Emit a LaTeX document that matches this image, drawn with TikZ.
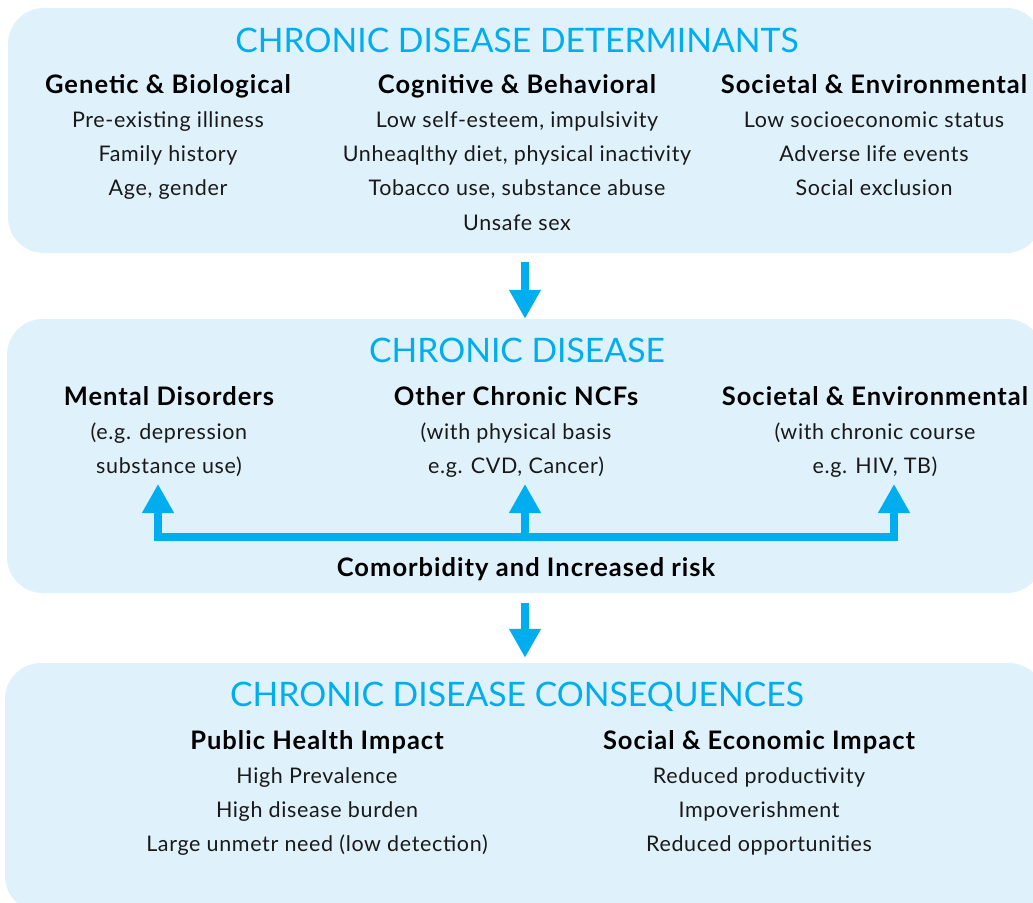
\documentclass[tikz,border=0pt]{standalone}
\usepackage{fontspec}
\setmainfont{Lato}
\newfontfamily\itemfont{Lato}[LetterSpace=3]
\newfontfamily\headfont{Lato}[LetterSpace=4]
\usetikzlibrary{arrows.meta}
\definecolor{cdcyan}{HTML}{00AEEF}
\definecolor{cdfill}{HTML}{DFF1FB}

\begin{document}
\begin{tikzpicture}[x=1pt,y=-1pt,
    panel/.style={fill=cdfill, rounded corners=36pt, draw=none, inner sep=0pt},
    ttl/.style={anchor=base, text=cdcyan, font=\fontsize{33.7}{36}\selectfont},
    head/.style={anchor=base, font=\headfont\fontsize{25.5}{28}\selectfont\bfseries},
    item/.style={anchor=base, text=black!90, font=\itemfont\fontsize{21.5}{24}\selectfont},
    flow/.style={draw=cdcyan, line width=8pt, -{Triangle[width=30pt,length=29pt]}}]

    \useasboundingbox (0,0) rectangle (1033,902);

    % the three panels, cut at the right edge
    \begin{scope}
        \clip (0,0) rectangle (1033,902);
        \node[panel, minimum width=1034pt, minimum height=245pt] (detbox) at (525,130.5) {};
        \node[panel, minimum width=1036pt, minimum height=274pt] (disbox) at (525,456) {};
        \node[panel, minimum width=1040pt, minimum height=249pt] (conbox) at (525,787.5) {};
    \end{scope}

    % determinants
    \node[ttl] (dettitle) at (517,52) {CHRONIC DISEASE DETERMINANTS};
    \node[head] (gen) at (168,93) {Genetic \& Biological};
    \node[head] (cog) at (517,93) {Cognitive \& Behavioral};
    \node[head] (soc) at (874,93) {Societal \& Environmental};
    \foreach \i/\txt in {1/Pre-existing illiness, 2/Family history, 3/{Age, gender}} {
            \node[item] (gen\i) at (168,93+34.3*\i) {\txt};
        }
    \foreach \i/\txt in {1/{Low self-esteem, impulsivity}, 2/{Unheaqlthy diet, physical inactivity}, 3/{Tobacco use, substance abuse}, 4/Unsafe sex} {
            \node[item] (cog\i) at (517,93+34.3*\i) {\txt};
        }
    \foreach \i/\txt in {1/Low socioeconomic status, 2/Adverse life events, 3/Social exclusion} {
            \node[item] (soc\i) at (874,93+34.3*\i) {\txt};
        }

    % chronic disease
    \node[ttl] (distitle) at (517,362) {CHRONIC DISEASE};
    \node[head] (ment) at (169,405) {Mental Disorders};
    \node[head] (ncf) at (516,405) {Other Chronic NCFs};
    \node[head] (env) at (875,405) {Societal \& Environmental};
    \node[item] (ment1) at (169,439) {(e.g. depression};
    \node[item] (ment2) at (169,473) {substance use)};
    \node[item] (ncf1) at (516,439) {(with physical basis};
    \node[item] (ncf2) at (516,473) {e.g. CVD, Cancer)};
    \node[item] (env1) at (875,439) {(with chronic course};
    \node[item] (env2) at (875,473) {e.g. HIV, TB)};
    \node[head] (comorb) at (526,576) {Comorbidity and Increased risk};

    % consequences
    \node[ttl] (contitle) at (517,706) {CHRONIC DISEASE CONSEQUENCES};
    \node[head] (pub) at (317,749) {Public Health Impact};
    \node[head] (eco) at (759,749) {Social \& Economic Impact};
    \foreach \i/\txt in {1/High Prevalence, 2/High disease burden, 3/Large unmetr need (low detection)} {
            \node[item] (pub\i) at (317,749+34*\i) {\txt};
        }
    \foreach \i/\txt in {1/Reduced productivity, 2/Impoverishment, 3/Reduced opportunities} {
            \node[item] (eco\i) at (759,749+34*\i) {\txt};
        }

    % arrows between panels
    \draw[flow] ([yshift=-9pt]detbox.south) -- (disbox.north);
    \draw[flow] ([yshift=-10pt]disbox.south) -- ([yshift=5pt]conbox.north);

    % comorbidity bar
    \coordinate (tipL) at (158,484);
    \coordinate (tipM) at (525,484);
    \coordinate (tipR) at (894,484);
    \coordinate (barM) at (525,537);
    \coordinate (barR) at (894,537);
    \draw[flow, {Triangle[width=30pt,length=29pt]}-{Triangle[width=30pt,length=29pt]}] (tipL) |- (barR) -- (tipR);
    \draw[flow] (barM) -- (tipM);

\end{tikzpicture}
\end{document}
